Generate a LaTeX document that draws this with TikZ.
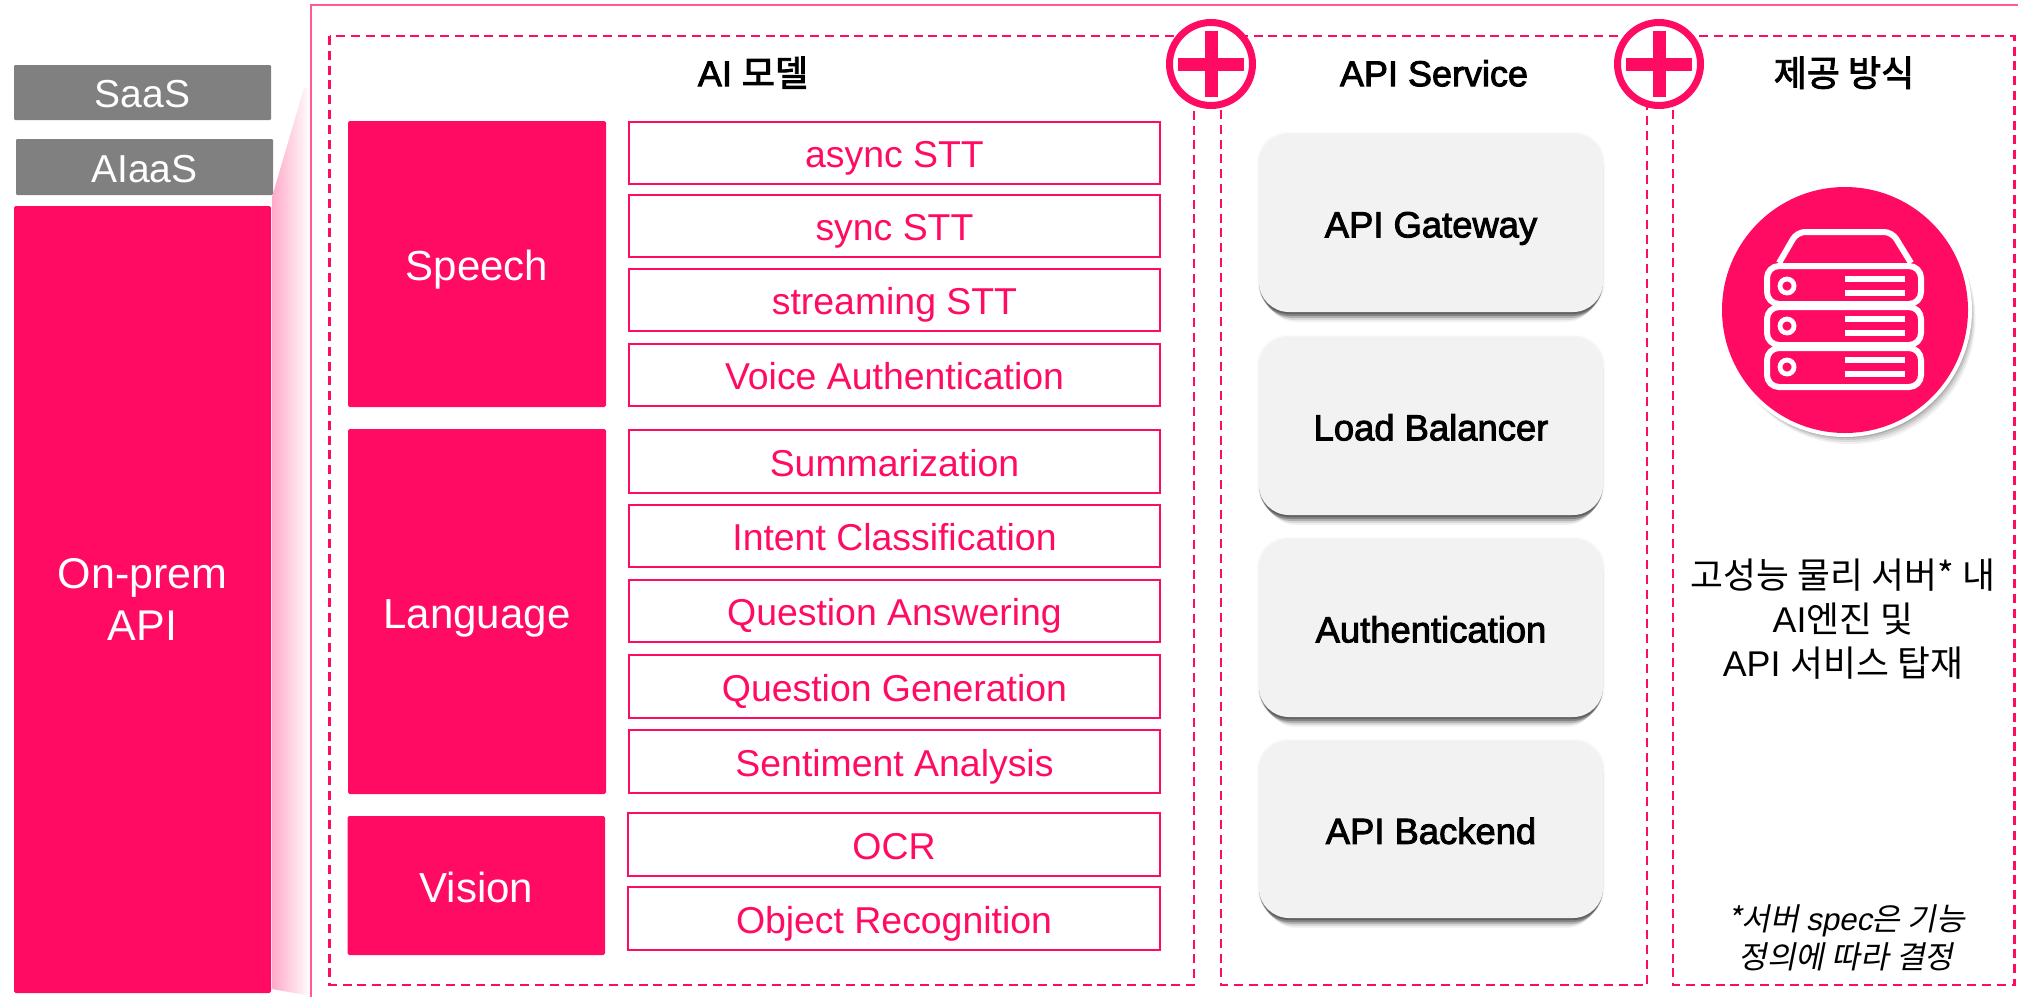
\documentclass[tikz,border=0pt]{standalone}
\usepackage{fontspec}
\setmainfont{Liberation Sans}
\newfontfamily\krf{Noto Sans CJK KR}
\newfontfamily\krm[FakeBold=2.5]{Noto Sans CJK KR}
\newfontfamily\krs[FakeSlant=0.2]{Noto Sans CJK KR}
\newfontfamily\med[FakeBold=2.5]{Liberation Sans}
\newfontfamily\meds[FakeSlant=0.2]{Liberation Sans}
\definecolor{pk}{HTML}{FF0B63}
\definecolor{pkl}{HTML}{FF5A93}
\definecolor{gy}{HTML}{808080}
\definecolor{apif}{HTML}{F2F2F2}
\newcommand\ct[1]{\raisebox{0pt}[.79em][0pt]{#1}}
\newcommand\bx[7][]{%
  \pgfmathsetmacro\bcx{(#3+#5)/2}\pgfmathsetmacro\bcy{(#4+#6)/2}%
  \pgfmathsetmacro\bw{#5-#3}\pgfmathsetmacro\bh{#6-#4}%
  \node[#1,minimum width=\bw*0.5pt,minimum height=\bh*0.5pt] (#2) at (\bcx,\bcy) {#7};}
\newcommand\apibox[6]{%
  \foreach \o/\i/\a in {10/7/.05,8/5/.10,6/3/.18,4/1/.25,2/0/.25}{
    \fill[black,opacity=\a,rounded corners=15pt] (#2+\i,#3+\o) rectangle (#4-\i,#5+\o);}
  \foreach \g/\a in {2/.015,1/.025}{
    \fill[black,opacity=\a,rounded corners=15pt] (#2-\g,#3-\g) rectangle (#4+\g,#5+\g);}
  \bx[apibx]{#1}{#2}{#3}{#4}{#5}{\ct{#6}}}
\tikzset{
  grayblk/.style={fill=gy,rounded corners=.6pt,inner sep=0,outer sep=0,text=white,font=\fontsize{19.5}{24}\selectfont},
  pinkblk/.style={fill=pk,rounded corners=.8pt,inner sep=0,outer sep=0,text=white,align=center,font=\fontsize{21}{26}\selectfont},
  itembx/.style={draw=pk,line width=1.25pt,fill=white,inner sep=0,outer sep=0,text=pk,font=\fontsize{18.7}{23}\selectfont},
  apibx/.style={fill=apif,rounded corners=15pt,inner sep=0,outer sep=0,text=black,font=\fontsize{18.2}{23}\selectfont\med},
  dashfr/.style={draw=pk,line width=1.1pt,dash pattern=on 4.5pt off 2.9pt},
  title/.style={inner sep=0,text=black,font=\fontsize{18}{23}\selectfont\med},
  plain/.style={inner sep=0,text=black,align=center},
  plusring/.style={circle,draw=pk,line width=3.5pt,fill=white,minimum size=41.5pt,inner sep=0},
  plusbar/.style={fill=pk},
  icon/.style={draw=white,line width=3pt,line join=round},
}
\begin{document}
\begin{tikzpicture}[x=0.5pt,y=-0.5pt]
\useasboundingbox (0,0) rectangle (2018,996);
\clip (0,0) rectangle (2018,996);
% fan gradient
\shade[left color=pk!35!white,right color=white,shading angle=90]
  (272,197) -- (304,88) -- (311,88) -- (311,996) -- (272,989) -- cycle;
% outer frame
\draw[pkl,line width=1.1pt] (311,1005) -- (311,5) -- (2030,5);
% left stack
\bx[grayblk]{saas}{14}{65}{271}{120}{\ct{SaaS}}
\bx[grayblk]{aiaas}{16}{139}{273}{195}{\ct{AIaaS}}
\bx[pinkblk,font=\fontsize{21.5}{26}\selectfont]{onprem}{14}{206}{271}{993}{\raisebox{-2.2pt}{\shortstack{On-prem\\[3.4pt]API}}}
% dashed panels
\draw[dashfr] (329.5,36) rectangle (1194,985);
\draw[dashfr] (1221,36) rectangle (1647,985);
\draw[dashfr] (1673,36) rectangle (2014.5,985);
% plus signs
\foreach \nm/\cx in {plusa/1211,plusb/1659}{
  \node[plusring] (\nm) at (\cx,64) {};
  \fill[plusbar] (\cx-33,64-6.5) rectangle (\cx+33,64+6.5);
  \fill[plusbar] (\cx-6.5,64-33) rectangle (\cx+6.5,64+33);
}
% titles
\node[title] (t1) at (753,72) {\ct{AI {\krm 모델}}};
\node[title] (t2) at (1434,72) {\ct{API Service}};
\node[title] (t3) at (1844,72) {\ct{\krm 제공 방식}};
% categories
\bx[pinkblk]{speech}{348}{121}{606}{407}{\ct{Speech}}
\bx[pinkblk]{language}{348}{429}{606}{794}{\ct{Language}}
\bx[pinkblk]{vision}{347.5}{816}{605}{955}{\ct{Vision}}
% items
\bx[itembx]{i1}{629}{122}{1160}{184}{\ct{async STT}}
\bx[itembx]{i2}{629}{195}{1160}{257}{\ct{sync STT}}
\bx[itembx]{i3}{629}{269}{1160}{331}{\ct{streaming STT}}
\bx[itembx]{i4}{629}{344}{1160}{406}{\ct{Voice Authentication}}
\bx[itembx]{i5}{629}{430}{1160}{493}{\ct{Summarization}}
\bx[itembx]{i6}{629}{505}{1160}{567}{\ct{Intent Classification}}
\bx[itembx]{i7}{629}{580}{1160}{642}{\ct{Question Answering}}
\bx[itembx]{i8}{629}{655}{1160}{718}{\ct{Question Generation}}
\bx[itembx]{i9}{629}{730}{1160}{793}{\ct{Sentiment Analysis}}
\bx[itembx]{i10}{628}{813}{1160}{876}{\ct{OCR}}
\bx[itembx]{i11}{628}{887}{1160}{950}{\ct{Object Recognition}}
% API service
\apibox{a1}{1259}{134}{1603}{312}{API Gateway}
\apibox{a2}{1259}{337}{1603}{515}{Load Balancer}
\apibox{a3}{1259}{539}{1603}{717}{Authentication}
\apibox{a4}{1259}{741}{1603}{918}{API Backend}
% server disc
\foreach \o/\a in {9/.06,7/.08,5/.10,3/.14}{
  \fill[black,opacity=\a] (1845+\o*.6,310+\o) circle[radius=125*0.5pt];}
\fill[white] (1845,310) circle[radius=127*0.5pt];
\node[circle,fill=pk,minimum size=123pt,inner sep=0] (disc) at (1845,310) {};
% server glyph
\draw[icon,rounded corners=4pt] (1779,263) -- (1797,232) -- (1892,232) -- (1911,263);
\draw[icon,rounded corners=6pt] (1767,266) rectangle (1921,304);
\draw[icon,rounded corners=6pt] (1767,307) rectangle (1921,345);
\draw[icon,rounded corners=6pt] (1767,348) rectangle (1921,387);
\foreach \y in {286,326,367}{
  \draw[white,line width=2.4pt] (1787,\y) circle[radius=7*0.5pt];
  \draw[white,line width=3pt] (1845,\y-7) -- (1905,\y-7);
  \draw[white,line width=3pt] (1845,\y+7) -- (1905,\y+7);
}
% body text
\node[plain,font=\fontsize{17.9}{22}\selectfont] (b1) at (1843,574) {\ct{\krf 고성능 물리 서버* 내}};
\node[plain,font=\fontsize{17.9}{22}\selectfont] (b2) at (1843,618) {\ct{AI{\krf 엔진 및}}};
\node[plain,font=\fontsize{17.9}{22}\selectfont] (b3) at (1843,662) {\ct{API {\krf 서비스 탑재}}};
% footnote
\node[plain,font=\fontsize{15.6}{18}\selectfont] (n1) at (1846,918) {\ct{\krs *서버 {\meds spec}은 기능}};
\node[plain,font=\fontsize{15.6}{18}\selectfont] (n2) at (1846,956) {\ct{\krs 정의에 따라 결정}};
\end{tikzpicture}
\end{document}
